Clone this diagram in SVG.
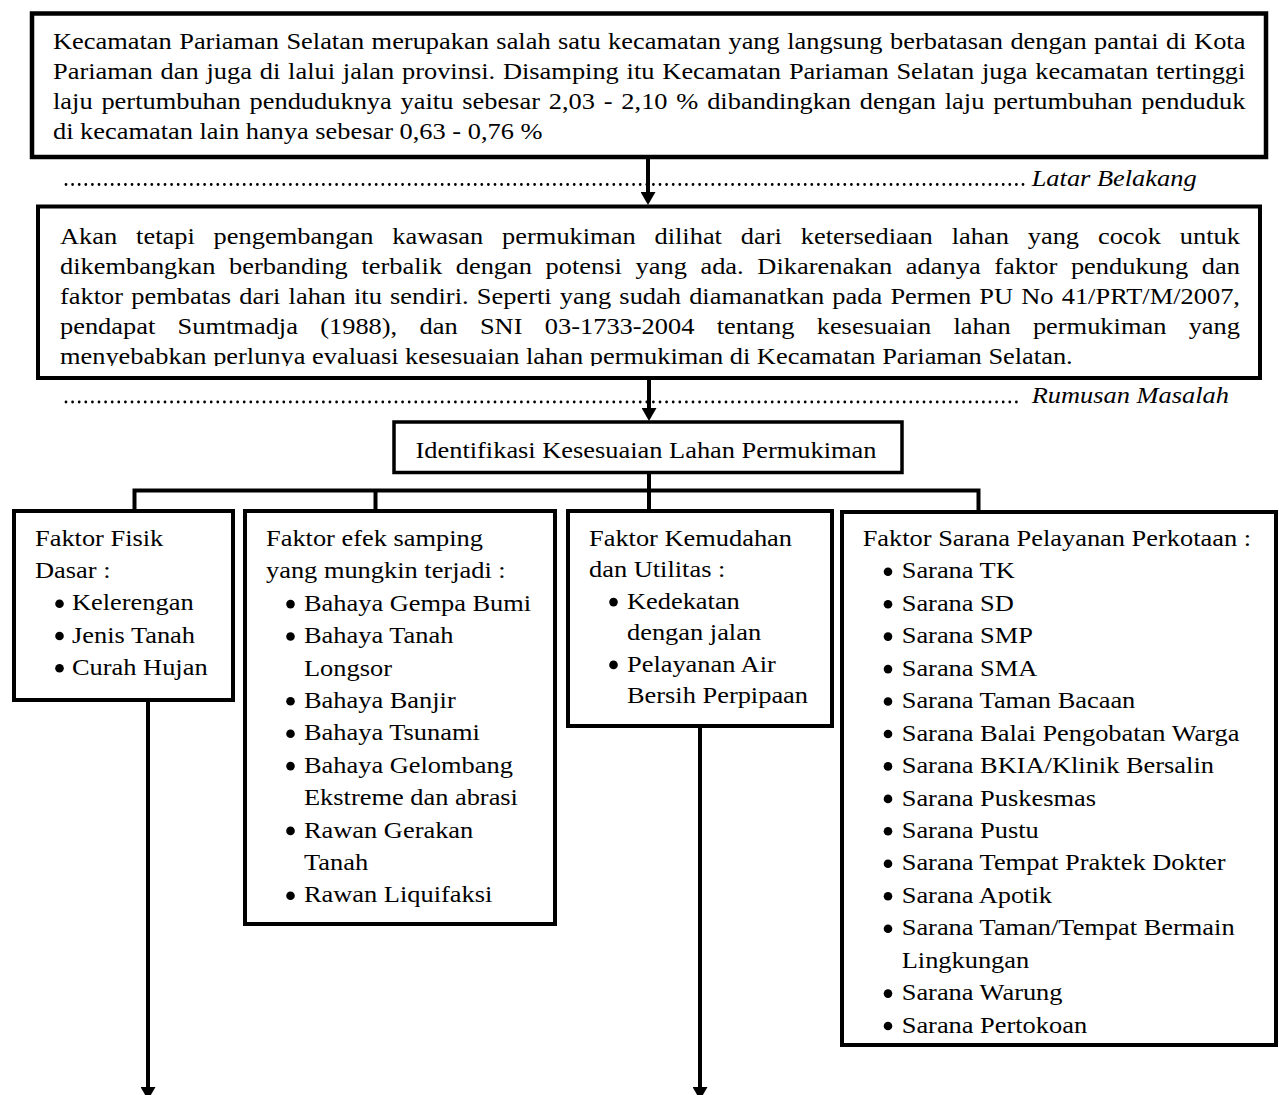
<svg xmlns="http://www.w3.org/2000/svg" width="1279" height="1095" viewBox="0 0 1279 1095">
<style>
.t{font-family:"Liberation Serif","Times New Roman",serif;font-size:24px;fill:#000}
.it{font-style:italic}
.box{fill:#fff;stroke:#000;stroke-width:4}
.con{fill:none;stroke:#000;stroke-width:4}
.dots{fill:none;stroke:#000;stroke-width:2.8;stroke-linecap:round;stroke-dasharray:0 6.6}
.bul{fill:#000}
</style>
<defs>
<marker id="ah" markerUnits="userSpaceOnUse" viewBox="0 0 13 15" markerWidth="13" markerHeight="15" refX="2" refY="7.5" orient="auto">
<path d="M0,0 L13,7.5 L0,15 Z" fill="#000"/>
</marker>
<clipPath id="c2"><rect x="40" y="208" width="1218" height="158"/></clipPath>
</defs>
<rect width="1279" height="1095" fill="#fff"/>

<g id="latar-belakang">
<rect class="box" x="32" y="13.5" width="1234" height="143.5" style="stroke-width:4.5"/>
<g transform="scale(1.1 1)">
<text class="t" x="48.18" y="49.5" word-spacing="0.79" textLength="1084" lengthAdjust="spacing">Kecamatan Pariaman Selatan merupakan salah satu kecamatan yang langsung berbatasan dengan pantai di Kota</text>
<text class="t" x="48.18" y="79.2" word-spacing="1.1" textLength="1084" lengthAdjust="spacing">Pariaman dan juga di lalui jalan provinsi. Disamping itu Kecamatan Pariaman Selatan juga kecamatan tertinggi</text>
<text class="t" x="48.18" y="108.9" word-spacing="2.0" textLength="1084" lengthAdjust="spacing">laju pertumbuhan penduduknya yaitu sebesar 2,03 - 2,10 % dibandingkan dengan laju pertumbuhan penduduk</text>
<text class="t" x="48.18" y="138.6">di kecamatan lain hanya sebesar 0,63 - 0,76 %</text>
</g>
</g>

<g id="label-latar">
<path class="dots" d="M66 184.5 H1024"/>
<g transform="scale(1.1 1)"><text class="t it" x="937.9" y="186">Latar Belakang</text></g>
</g>

<g id="rumusan-masalah">
<rect class="box" x="38" y="206.5" width="1222" height="171.5"/>
<g clip-path="url(#c2)">
<g transform="scale(1.1 1)">
<text class="t" x="54.55" y="244" word-spacing="11.17" textLength="1072.7" lengthAdjust="spacing">Akan tetapi pengembangan kawasan permukiman dilihat dari ketersediaan lahan yang cocok untuk</text>
<text class="t" x="54.55" y="274" word-spacing="6.39" textLength="1072.7" lengthAdjust="spacing">dikembangkan berbanding terbalik dengan potensi yang ada. Dikarenakan adanya faktor pendukung dan</text>
<text class="t" x="54.55" y="304" word-spacing="1.39" textLength="1072.7" lengthAdjust="spacing">faktor pembatas dari lahan itu sendiri. Seperti yang sudah diamanatkan pada Permen PU No 41/PRT/M/2007,</text>
<text class="t" x="54.55" y="334" word-spacing="14.28" textLength="1072.7" lengthAdjust="spacing">pendapat Sumtmadja (1988), dan SNI 03-1733-2004 tentang kesesuaian lahan permukiman yang</text>
<text class="t" x="54.55" y="364">menyebabkan perlunya evaluasi kesesuaian lahan permukiman di Kecamatan Pariaman Selatan.</text>
</g>
</g>
</g>

<g id="label-rumusan">
<path class="dots" d="M66 402 H1022"/>
<g transform="scale(1.1 1)"><text class="t it" x="937.9" y="403.5">Rumusan Masalah</text></g>
</g>

<g id="identifikasi">
<rect class="box" x="394" y="422" width="508" height="50.5" style="stroke-width:3.5"/>
<g transform="scale(1.1 1)"><text class="t" x="587.27" y="458.3" text-anchor="middle">Identifikasi Kesesuaian Lahan Permukiman</text></g>
</g>

<g id="faktor-fisik">
<rect class="box" x="14" y="511" width="219" height="189"/>
<circle class="bul" cx="59.5" cy="603.8" r="4.3"/>
<circle class="bul" cx="59.5" cy="636" r="4.3"/>
<circle class="bul" cx="59.5" cy="668.3" r="4.3"/>
<g transform="scale(1.1 1)">
<text class="t" x="31.82" y="546">Faktor Fisik</text>
<text class="t" x="31.82" y="578.25">Dasar :</text>
<text class="t" x="65.45" y="610.5">Kelerengan</text>
<text class="t" x="65.45" y="642.75">Jenis Tanah</text>
<text class="t" x="65.45" y="675">Curah Hujan</text>
</g>
</g>

<g id="faktor-efek">
<rect class="box" x="245" y="511" width="310" height="413"/>
<circle class="bul" cx="290.5" cy="604.1" r="4.3"/>
<circle class="bul" cx="290.5" cy="636.5" r="4.3"/>
<circle class="bul" cx="290.5" cy="701.3" r="4.3"/>
<circle class="bul" cx="290.5" cy="733.7" r="4.3"/>
<circle class="bul" cx="290.5" cy="766.1" r="4.3"/>
<circle class="bul" cx="290.5" cy="830.9" r="4.3"/>
<circle class="bul" cx="290.5" cy="895.7" r="4.3"/>
<g transform="scale(1.1 1)">
<text class="t" x="241.82" y="546">Faktor efek samping</text>
<text class="t" x="241.82" y="578.4">yang mungkin terjadi :</text>
<text class="t" x="276.36" y="610.8">Bahaya Gempa Bumi</text>
<text class="t" x="276.36" y="643.2">Bahaya Tanah</text>
<text class="t" x="276.36" y="675.6">Longsor</text>
<text class="t" x="276.36" y="708">Bahaya Banjir</text>
<text class="t" x="276.36" y="740.4">Bahaya Tsunami</text>
<text class="t" x="276.36" y="772.8">Bahaya Gelombang</text>
<text class="t" x="276.36" y="805.2">Ekstreme dan abrasi</text>
<text class="t" x="276.36" y="837.6">Rawan Gerakan</text>
<text class="t" x="276.36" y="870">Tanah</text>
<text class="t" x="276.36" y="902.4">Rawan Liquifaksi</text>
</g>
</g>

<g id="faktor-kemudahan">
<rect class="box" x="568" y="511" width="264" height="215"/>
<circle class="bul" cx="613.5" cy="602.1" r="4.3"/>
<circle class="bul" cx="613.5" cy="664.9" r="4.3"/>
<g transform="scale(1.1 1)">
<text class="t" x="535.45" y="546">Faktor Kemudahan</text>
<text class="t" x="535.45" y="577.4">dan Utilitas :</text>
<text class="t" x="570" y="608.8">Kedekatan</text>
<text class="t" x="570" y="640.2">dengan jalan</text>
<text class="t" x="570" y="671.6">Pelayanan Air</text>
<text class="t" x="570" y="703">Bersih Perpipaan</text>
</g>
</g>

<g id="faktor-sarana">
<rect class="box" x="842" y="512" width="434" height="533"/>
<circle class="bul" cx="888" cy="571.7" r="4.3"/>
<circle class="bul" cx="888" cy="604.2" r="4.3"/>
<circle class="bul" cx="888" cy="636.6" r="4.3"/>
<circle class="bul" cx="888" cy="669.1" r="4.3"/>
<circle class="bul" cx="888" cy="701.5" r="4.3"/>
<circle class="bul" cx="888" cy="734" r="4.3"/>
<circle class="bul" cx="888" cy="766.4" r="4.3"/>
<circle class="bul" cx="888" cy="798.9" r="4.3"/>
<circle class="bul" cx="888" cy="831.3" r="4.3"/>
<circle class="bul" cx="888" cy="863.8" r="4.3"/>
<circle class="bul" cx="888" cy="896.2" r="4.3"/>
<circle class="bul" cx="888" cy="928.7" r="4.3"/>
<circle class="bul" cx="888" cy="993.6" r="4.3"/>
<circle class="bul" cx="888" cy="1026" r="4.3"/>
<g transform="scale(1.1 1)">
<text class="t" x="784.27" y="546">Faktor Sarana Pelayanan Perkotaan :</text>
<text class="t" x="819.73" y="578.45">Sarana TK</text>
<text class="t" x="819.73" y="610.9">Sarana SD</text>
<text class="t" x="819.73" y="643.35">Sarana SMP</text>
<text class="t" x="819.73" y="675.8">Sarana SMA</text>
<text class="t" x="819.73" y="708.25">Sarana Taman Bacaan</text>
<text class="t" x="819.73" y="740.7">Sarana Balai Pengobatan Warga</text>
<text class="t" x="819.73" y="773.15">Sarana BKIA/Klinik Bersalin</text>
<text class="t" x="819.73" y="805.6">Sarana Puskesmas</text>
<text class="t" x="819.73" y="838.05">Sarana Pustu</text>
<text class="t" x="819.73" y="870.5">Sarana Tempat Praktek Dokter</text>
<text class="t" x="819.73" y="902.95">Sarana Apotik</text>
<text class="t" x="819.73" y="935.4">Sarana Taman/Tempat Bermain</text>
<text class="t" x="819.73" y="967.85">Lingkungan</text>
<text class="t" x="819.73" y="1000.3">Sarana Warung</text>
<text class="t" x="819.73" y="1032.75">Sarana Pertokoan</text>
</g>
</g>

<g id="connectors">
<path class="con" d="M648 159 V194" marker-end="url(#ah)"/>
<path class="con" d="M649 380 V410" marker-end="url(#ah)"/>
<path class="con" d="M649 473 V511"/>
<path class="con" d="M134.5 511 V490.5 H978.5 V512"/>
<path class="con" d="M375.5 490.5 V511"/>
<path class="con" d="M148 702 V1089" marker-end="url(#ah)"/>
<path class="con" d="M700 728 V1089" marker-end="url(#ah)"/>
</g>
</svg>
